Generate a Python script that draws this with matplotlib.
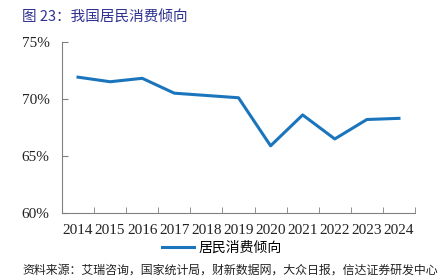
import matplotlib.pyplot as plt
from matplotlib.ticker import FixedLocator, FuncFormatter

plt.rcParams['font.family'] = ['Liberation Serif', 'Noto Sans CJK SC', 'DejaVu Sans']

years = ['2014', '2015', '2016', '2017', '2018', '2019', '2020', '2021', '2022', '2023', '2024']
ratio = [71.9, 71.5, 71.8, 70.5, 70.3, 70.1, 65.9, 68.6, 66.5, 68.2, 68.3]  # 居民消费倾向 %
yticks = [60, 65, 70, 75]

fig = plt.figure(figsize=(4.44, 2.78), dpi=100)
ax = fig.add_axes([0.1396, 0.2327, 0.7951, 0.6173])

x = list(range(len(years)))
ax.plot(x, ratio, color='#1B75BC', lw=2.2, label='居民消费倾向')

ax.set_xlim(-0.5, len(years) - 0.5)
ax.set_ylim(60, 75)
ax.set_yticks(yticks)
ax.yaxis.set_major_formatter(FuncFormatter(lambda v, p: f'{v:.0f}%'))
ax.set_xticks(x)
ax.set_xticklabels(years)
ax.xaxis.set_minor_locator(FixedLocator([i + 0.5 for i in range(len(years))]))

for s in ['top', 'right']:
    ax.spines[s].set_visible(False)
for s in ['left', 'bottom']:
    ax.spines[s].set_color('#808080')
    ax.spines[s].set_linewidth(0.8)

ax.tick_params(axis='x', which='major', length=0, pad=8, labelsize=11, colors='#222222')
ax.tick_params(axis='x', which='minor', direction='in', length=4, color='#808080')
ax.tick_params(axis='y', direction='in', length=4, pad=9, labelsize=11, color='#808080', labelcolor='#222222')

fig.legend(loc='center', bbox_to_anchor=(0.5, 0.108), frameon=False,
           handlelength=2.3, handletextpad=0.35, prop={'family': 'Noto Sans CJK SC', 'size': 10})

fig.text(0.05, 1 - 18 / 278, '图 23：我国居民消费倾向', color='#2E3192', fontsize=10.5,
         va='center', ha='left', family=['Noto Sans CJK SC', 'DejaVu Sans'])
fig.text(0.05, 1 - 270 / 278, '资料来源：艾瑞咨询，国家统计局，财新数据网，大众日报，信达证券研发中心',
         color='#222222', fontsize=8.6, va='center', ha='left', family=['Noto Sans CJK SC', 'DejaVu Sans'])

fig.savefig('out.png', dpi=100)
